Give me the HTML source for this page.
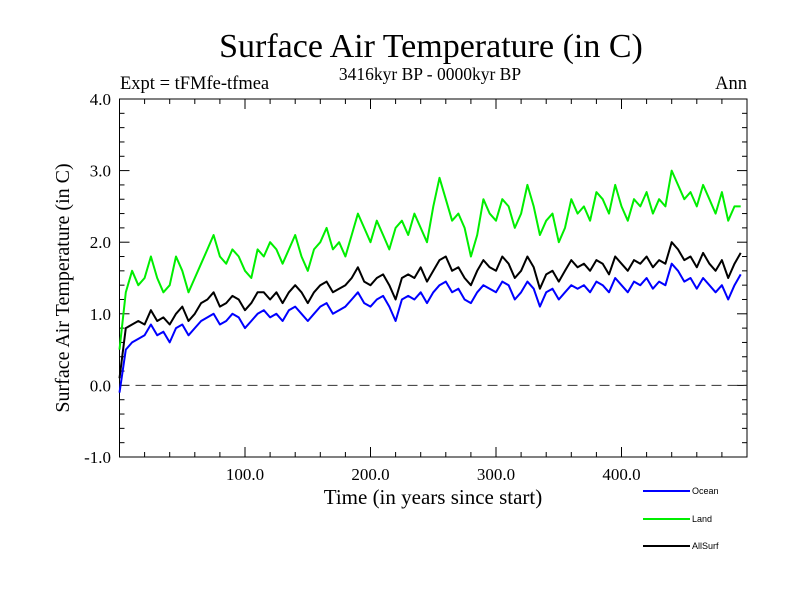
<!DOCTYPE html>
<html><head><meta charset="utf-8"><style>
body{margin:0;background:#fff}
svg{display:block}
text{font-family:"Liberation Serif",serif;fill:#000}
</style></head><body>
<svg id="chart" width="800" height="600" xmlns="http://www.w3.org/2000/svg">
<text x="431" y="57" font-size="34" text-anchor="middle">Surface Air Temperature (in C)</text>
<text x="430" y="80" font-size="17.5" text-anchor="middle">3416kyr BP - 0000kyr BP</text>
<text x="120" y="89" font-size="18.5">Expt = tFMfe-tfmea</text>
<text x="747" y="89" font-size="18.5" text-anchor="end">Ann</text>
<text transform="translate(69,288) rotate(-90)" font-size="20" text-anchor="middle">Surface Air Temperature (in C)</text>
<text x="433" y="504" font-size="21" text-anchor="middle">Time (in years since start)</text>
<g id="axes"></g>
<g id="series"></g>
<g id="legend"></g>
</svg>
<script>
const years=[];for(let i=0;i<100;i++)years.push(i*5);
const land=[0.5,1.3,1.6,1.4,1.5,1.8,1.5,1.3,1.4,1.8,1.6,1.3,1.5,1.7,1.9,2.1,1.8,1.7,1.9,1.8,1.6,1.5,1.9,1.8,2.0,1.9,1.7,1.9,2.1,1.8,1.6,1.9,2.0,2.2,1.9,2.0,1.8,2.1,2.4,2.2,2.0,2.3,2.1,1.9,2.2,2.3,2.1,2.4,2.2,2.0,2.5,2.9,2.6,2.3,2.4,2.2,1.8,2.1,2.6,2.4,2.3,2.6,2.5,2.2,2.4,2.8,2.5,2.1,2.3,2.4,2.0,2.2,2.6,2.4,2.5,2.3,2.7,2.6,2.4,2.8,2.5,2.3,2.6,2.5,2.7,2.4,2.6,2.5,3.0,2.8,2.6,2.7,2.5,2.8,2.6,2.4,2.7,2.3,2.5,2.5];
const ocean=[-0.1,0.5,0.6,0.65,0.7,0.85,0.7,0.75,0.6,0.8,0.85,0.7,0.8,0.9,0.95,1.0,0.85,0.9,1.0,0.95,0.8,0.9,1.0,1.05,0.95,1.0,0.9,1.05,1.1,1.0,0.9,1.0,1.1,1.15,1.0,1.05,1.1,1.2,1.3,1.15,1.1,1.2,1.25,1.1,0.9,1.2,1.25,1.2,1.3,1.15,1.3,1.4,1.45,1.3,1.35,1.2,1.15,1.3,1.4,1.35,1.3,1.45,1.4,1.2,1.3,1.45,1.35,1.1,1.3,1.35,1.2,1.3,1.4,1.35,1.4,1.3,1.45,1.4,1.3,1.5,1.4,1.3,1.45,1.4,1.5,1.35,1.45,1.4,1.7,1.6,1.45,1.5,1.35,1.5,1.4,1.3,1.4,1.2,1.4,1.55];
const allsurf=[0.1,0.8,0.85,0.9,0.85,1.05,0.9,0.95,0.85,1.0,1.1,0.9,1.0,1.15,1.2,1.3,1.1,1.15,1.25,1.2,1.05,1.15,1.3,1.3,1.2,1.3,1.15,1.3,1.4,1.3,1.15,1.3,1.4,1.45,1.3,1.35,1.4,1.5,1.65,1.45,1.4,1.5,1.55,1.4,1.2,1.5,1.55,1.5,1.65,1.45,1.6,1.75,1.8,1.6,1.65,1.5,1.4,1.6,1.75,1.65,1.6,1.8,1.7,1.5,1.6,1.8,1.65,1.35,1.55,1.6,1.45,1.6,1.75,1.65,1.7,1.6,1.75,1.7,1.55,1.8,1.7,1.6,1.75,1.7,1.8,1.65,1.75,1.7,2.0,1.9,1.75,1.8,1.65,1.85,1.7,1.6,1.75,1.5,1.7,1.85];
const yTickLabels=["-1.0","0.0","1.0","2.0","3.0","4.0"];
const xTickLabels=["100.0","200.0","300.0","400.0"];
const X0=119.5,X1=747,Y0=457,Y1=99;
const xs=t=>X0+(t/500)*(X1-X0);
const ys=v=>Y0-((v+1)/5)*(Y0-Y1);
const NS="http://www.w3.org/2000/svg";
function mk(tag,attrs,parent){const e=document.createElementNS(NS,tag);for(const k in attrs)e.setAttribute(k,attrs[k]);parent.appendChild(e);return e;}
const ax=document.getElementById('axes');
const frame=mk('rect',{x:X0,y:Y1,width:X1-X0,height:Y0-Y1,fill:'none',stroke:'#000','stroke-width':1},ax);


for(let v=-1;v<=4.001;v+=0.2){const y=ys(v);const maj=Math.abs(v-Math.round(v))<0.01;const L=maj?10:5;
mk('line',{x1:X0,x2:X0+L,y1:y,y2:y,stroke:'#000'},ax);mk('line',{x1:X1,x2:X1-L,y1:y,y2:y,stroke:'#000'},ax);}
yTickLabels.forEach(s=>{const t=mk('text',{x:111,y:ys(parseFloat(s))+6,'font-size':17,'text-anchor':'end'},ax);t.textContent=s;

});
for(let t=20;t<500;t+=20){const x=xs(t);const L=(t%100===0)?10:5;
mk('line',{x1:x,x2:x,y1:Y0,y2:Y0-L,stroke:'#000'},ax);mk('line',{x1:x,x2:x,y1:Y1,y2:Y1+L,stroke:'#000'},ax);}
xTickLabels.forEach(s=>{const t=mk('text',{x:xs(parseFloat(s)),y:480,'font-size':17,'text-anchor':'middle'},ax);t.textContent=s;

});
const zl=mk('line',{x1:X0,x2:X1,y1:ys(0),y2:ys(0),stroke:'#333','stroke-dasharray':'10,6'},ax);


const sg=document.getElementById('series');
function line(vals,color,name){const p=mk('polyline',{points:vals.map((v,i)=>xs(years[i]).toFixed(1)+','+ys(v).toFixed(1)).join(' '),fill:'none',stroke:color,'stroke-width':2,'stroke-linejoin':'round'},sg);

}
line(land,'#00ee00','land-line');
line(ocean,'#0000ff','ocean-line');
line(allsurf,'#000000','allsurf-line');
const lg=document.getElementById('legend');
[['Ocean','#0000ff',491],['Land','#00ee00',519],['AllSurf','#000000',546]].forEach(([n,c,y])=>{
const g=mk('g',{},lg);


mk('line',{x1:643,x2:690,y1:y,y2:y,stroke:c,'stroke-width':2},g);
const t=mk('text',{x:692,y:y+3,'font-size':9,style:'font-family:"Liberation Sans",sans-serif'},g);t.textContent=n;});
</script>
</body></html>
